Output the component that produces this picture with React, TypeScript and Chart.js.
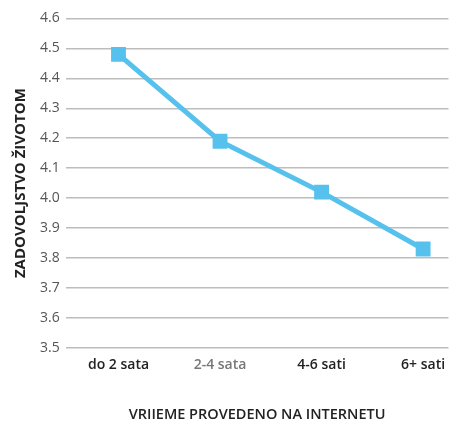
import React, { useEffect, useRef } from "react";
import { Chart, registerables } from "chart.js";

Chart.register(...registerables);

const categories = ["do 2 sata", "2-4 sata", "4-6 sati", "6+ sati"];
const values = [4.48, 4.19, 4.02, 3.83];
const yTicks = [3.5, 3.6, 3.7, 3.8, 3.9, 4.0, 4.1, 4.2, 4.3, 4.4, 4.5, 4.6];
const labelColors = ["#222222", "#777777", "#222222", "#222222"];
const xTitle = "VRIIEME PROVEDENO NA INTERNETU";
const yTitle = "ZADOVOLJSTVO ŽIVOTOM";

export default function App() {
  const ref = useRef<HTMLCanvasElement>(null);
  useEffect(() => {
    if (!ref.current) return;
    const chart = new Chart(ref.current, {
      type: "line",
      data: {
        datasets: [
          {
            data: values.map((v, i) => ({ x: i, y: v })),
            borderColor: "#57C1EE",
            backgroundColor: "#57C1EE",
            borderWidth: 5,
            pointStyle: "rect",
            pointRadius: 10.5,
            pointBorderWidth: 0,
            tension: 0,
          },
        ],
      },
      options: {
        animation: false,
        responsive: true,
        maintainAspectRatio: false,
        layout: { padding: { top: 9, right: 1, left: 4, bottom: -2 } },
        plugins: { legend: { display: false }, tooltip: { enabled: false } },
        scales: {
          x: {
            type: "linear",
            min: -0.52,
            max: 3.25,
            afterBuildTicks: (axis: any) => {
              axis.ticks = categories.map((_, i) => ({ value: i }));
            },
            afterFit: (axis: any) => {
              axis.paddingLeft = 0;
              axis.paddingRight = 0;
            },
            ticks: {
              autoSkip: false,
              maxRotation: 0,
              padding: 1,
              callback: (v: any) => categories[v as number] ?? "",
              color: (ctx: any) => labelColors[ctx.index] ?? "#222",
              font: { family: "Open Sans", size: 14, weight: "600" },
            },
            grid: { display: false },
            border: { display: false },
            title: {
              display: true,
              text: xTitle,
              color: "#222222",
              font: { family: "Open Sans", size: 14.5, weight: "600" },
              padding: { top: 32, bottom: 0 },
            },
          },
          y: {
            min: 3.5,
            max: 4.6,
            afterBuildTicks: (axis: any) => {
              axis.ticks = yTicks.map((v) => ({ value: v }));
            },
            afterFit: (axis: any) => {
              axis.paddingTop = 0;
              axis.paddingBottom = 0;
            },
            ticks: {
              padding: 6,
              color: "#555555",
              callback: (v: any) => Number(v).toFixed(1),
              font: { family: "Open Sans", size: 14, lineHeight: 1 },
            },
            grid: { color: "#bdbdbd", lineWidth: 1.5, drawTicks: false },
            border: { display: false },
            title: {
              display: true,
              text: yTitle,
              color: "#222222",
              font: { family: "Open Sans", size: 15, weight: "700" },
              padding: { top: 0, bottom: 4 },
            },
          },
        },
      },
    });
    return () => chart.destroy();
  }, []);
  return (
    <div style={{ position: "fixed", left: 8, top: 8, width: 451, height: 414 }}>
      <canvas ref={ref} />
    </div>
  );
}
